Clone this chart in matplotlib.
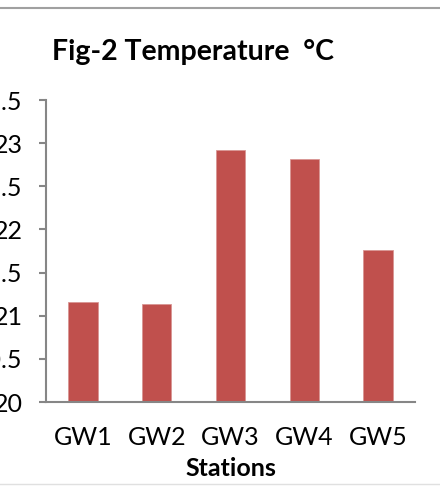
import matplotlib
matplotlib.use("Agg")
import matplotlib.pyplot as plt
from matplotlib.lines import Line2D

stations = ["GW1", "GW2", "GW3", "GW4", "GW5"]
temperature = [21.16, 21.13, 22.92, 22.82, 21.76]
yticks = [20, 20.5, 21, 21.5, 22, 22.5, 23, 23.5]
ytick_labels = ["20", "20.5", "21", "21.5", "22", "22.5", "23", "23.5"]

plt.rcParams['font.family'] = ['Lato', 'DejaVu Sans']

fig = plt.figure(figsize=(4.4, 4.86), dpi=100)
ax = fig.add_axes([46/440, 1-402/486, (415-46)/440, (402-100)/486])

x = list(range(len(stations)))
ax.bar(x, temperature, width=0.40, color="#C0504D", bottom=0,
       edgecolor="#D99694", linewidth=0.6)
ax.set_xlim(-0.5, 4.5)
ax.set_ylim(20, 23.5)
ax.set_yticks(yticks)
ax.set_yticklabels(ytick_labels)
ax.set_xticks(x)
ax.set_xticklabels(stations)

grey = "#868686"
for s in ["top", "right"]:
    ax.spines[s].set_visible(False)
for s in ["left", "bottom"]:
    ax.spines[s].set_color(grey)
    ax.spines[s].set_linewidth(1.5)
ax.tick_params(axis="y", length=5, width=1.5, color=grey, pad=12, labelsize=18)
ax.tick_params(axis="x", length=0, pad=17, labelsize=18)

ax.set_xlabel("Stations", fontsize=18, fontweight="bold", labelpad=6)
fig.text(0.439, 1-52/486, "Fig-2 Temperature  \u00b0C", ha="center", va="center",
         fontsize=20.5, fontweight="bold")

fig.add_artist(Line2D([0, 1], [1-8/486, 1-8/486], color="#A0A0A0", linewidth=1.5,
                      transform=fig.transFigure))
fig.add_artist(Line2D([0, 1], [1-484/486, 1-484/486], color="#E0E0E0", linewidth=1.0,
                      transform=fig.transFigure))

fig.savefig("out.png", dpi=100)
